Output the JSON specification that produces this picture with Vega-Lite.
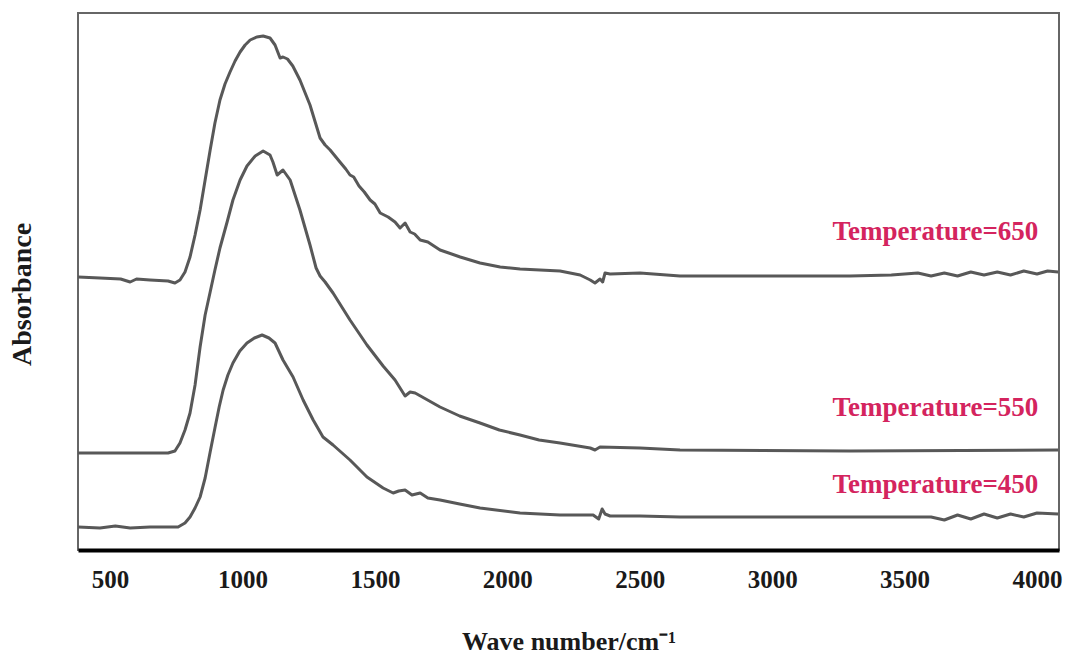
{
  "$schema": "https://vega.github.io/schema/vega-lite/v6.json",
  "width": 981,
  "height": 537,
  "autosize": "none",
  "padding": {"left": 78, "top": 13, "right": 11, "bottom": 105},
  "background": "white",
  "config": {
    "view": {"stroke": "#666666", "strokeWidth": 2},
    "font": "Liberation Serif"
  },
  "datasets": {
    "spectra": [
      {"series": "650", "wn": 379, "a": 273}, {"series": "650", "wn": 462, "a": 272}, {"series": "650", "wn": 540, "a": 271}, {"series": "650", "wn": 576, "a": 268}, {"series": "650", "wn": 600, "a": 271}, {"series": "650", "wn": 651, "a": 270}, {"series": "650", "wn": 719, "a": 269}, {"series": "650", "wn": 745, "a": 267}, {"series": "650", "wn": 764, "a": 270}, {"series": "650", "wn": 783, "a": 278}, {"series": "650", "wn": 802, "a": 293}, {"series": "650", "wn": 821, "a": 315}, {"series": "650", "wn": 840, "a": 340}, {"series": "650", "wn": 859, "a": 370}, {"series": "650", "wn": 878, "a": 400}, {"series": "650", "wn": 896, "a": 427}, {"series": "650", "wn": 915, "a": 450}, {"series": "650", "wn": 934, "a": 466}, {"series": "650", "wn": 953, "a": 478}, {"series": "650", "wn": 972, "a": 489}, {"series": "650", "wn": 991, "a": 498}, {"series": "650", "wn": 1010, "a": 505}, {"series": "650", "wn": 1029, "a": 510}, {"series": "650", "wn": 1054, "a": 513}, {"series": "650", "wn": 1078, "a": 514}, {"series": "650", "wn": 1104, "a": 512}, {"series": "650", "wn": 1123, "a": 505}, {"series": "650", "wn": 1142, "a": 492}, {"series": "650", "wn": 1153, "a": 493}, {"series": "650", "wn": 1170, "a": 491}, {"series": "650", "wn": 1190, "a": 484}, {"series": "650", "wn": 1217, "a": 470}, {"series": "650", "wn": 1255, "a": 445}, {"series": "650", "wn": 1293, "a": 412}, {"series": "650", "wn": 1312, "a": 405}, {"series": "650", "wn": 1331, "a": 400}, {"series": "650", "wn": 1368, "a": 388}, {"series": "650", "wn": 1390, "a": 381}, {"series": "650", "wn": 1406, "a": 375}, {"series": "650", "wn": 1420, "a": 373}, {"series": "650", "wn": 1440, "a": 364}, {"series": "650", "wn": 1460, "a": 358}, {"series": "650", "wn": 1482, "a": 350}, {"series": "650", "wn": 1500, "a": 346}, {"series": "650", "wn": 1520, "a": 337}, {"series": "650", "wn": 1550, "a": 333}, {"series": "650", "wn": 1576, "a": 328}, {"series": "650", "wn": 1595, "a": 322}, {"series": "650", "wn": 1614, "a": 327}, {"series": "650", "wn": 1633, "a": 318}, {"series": "650", "wn": 1650, "a": 316}, {"series": "650", "wn": 1671, "a": 310}, {"series": "650", "wn": 1700, "a": 308}, {"series": "650", "wn": 1746, "a": 300}, {"series": "650", "wn": 1822, "a": 293}, {"series": "650", "wn": 1897, "a": 287}, {"series": "650", "wn": 1973, "a": 283}, {"series": "650", "wn": 2048, "a": 281}, {"series": "650", "wn": 2199, "a": 279}, {"series": "650", "wn": 2275, "a": 275}, {"series": "650", "wn": 2313, "a": 270}, {"series": "650", "wn": 2331, "a": 267}, {"series": "650", "wn": 2350, "a": 271}, {"series": "650", "wn": 2360, "a": 268}, {"series": "650", "wn": 2369, "a": 277}, {"series": "650", "wn": 2388, "a": 276}, {"series": "650", "wn": 2501, "a": 277}, {"series": "650", "wn": 2652, "a": 274}, {"series": "650", "wn": 2917, "a": 274}, {"series": "650", "wn": 3294, "a": 274}, {"series": "650", "wn": 3450, "a": 275}, {"series": "650", "wn": 3550, "a": 277}, {"series": "650", "wn": 3600, "a": 274}, {"series": "650", "wn": 3650, "a": 277}, {"series": "650", "wn": 3700, "a": 274}, {"series": "650", "wn": 3750, "a": 278}, {"series": "650", "wn": 3800, "a": 275}, {"series": "650", "wn": 3850, "a": 278}, {"series": "650", "wn": 3900, "a": 275}, {"series": "650", "wn": 3950, "a": 279}, {"series": "650", "wn": 4000, "a": 276}, {"series": "650", "wn": 4040, "a": 279}, {"series": "650", "wn": 4080, "a": 278},

      {"series": "550", "wn": 379, "a": 97}, {"series": "550", "wn": 719, "a": 97}, {"series": "550", "wn": 745, "a": 99}, {"series": "550", "wn": 764, "a": 107}, {"series": "550", "wn": 783, "a": 120}, {"series": "550", "wn": 802, "a": 137}, {"series": "550", "wn": 821, "a": 165}, {"series": "550", "wn": 840, "a": 203}, {"series": "550", "wn": 859, "a": 235}, {"series": "550", "wn": 878, "a": 258}, {"series": "550", "wn": 896, "a": 280}, {"series": "550", "wn": 915, "a": 302}, {"series": "550", "wn": 942, "a": 328}, {"series": "550", "wn": 964, "a": 350}, {"series": "550", "wn": 991, "a": 370}, {"series": "550", "wn": 1017, "a": 384}, {"series": "550", "wn": 1048, "a": 394}, {"series": "550", "wn": 1078, "a": 399}, {"series": "550", "wn": 1104, "a": 395}, {"series": "550", "wn": 1115, "a": 388}, {"series": "550", "wn": 1131, "a": 375}, {"series": "550", "wn": 1153, "a": 380}, {"series": "550", "wn": 1180, "a": 370}, {"series": "550", "wn": 1217, "a": 340}, {"series": "550", "wn": 1255, "a": 305}, {"series": "550", "wn": 1278, "a": 282}, {"series": "550", "wn": 1293, "a": 274}, {"series": "550", "wn": 1312, "a": 268}, {"series": "550", "wn": 1342, "a": 257}, {"series": "550", "wn": 1406, "a": 230}, {"series": "550", "wn": 1470, "a": 205}, {"series": "550", "wn": 1531, "a": 184}, {"series": "550", "wn": 1576, "a": 170}, {"series": "550", "wn": 1614, "a": 154}, {"series": "550", "wn": 1633, "a": 158}, {"series": "550", "wn": 1652, "a": 157}, {"series": "550", "wn": 1746, "a": 143}, {"series": "550", "wn": 1820, "a": 134}, {"series": "550", "wn": 1897, "a": 127}, {"series": "550", "wn": 1970, "a": 120}, {"series": "550", "wn": 2048, "a": 115}, {"series": "550", "wn": 2120, "a": 110}, {"series": "550", "wn": 2199, "a": 107}, {"series": "550", "wn": 2313, "a": 102}, {"series": "550", "wn": 2331, "a": 100}, {"series": "550", "wn": 2350, "a": 103}, {"series": "550", "wn": 2501, "a": 102}, {"series": "550", "wn": 2652, "a": 100}, {"series": "550", "wn": 3294, "a": 99}, {"series": "550", "wn": 4080, "a": 100},

      {"series": "450", "wn": 379, "a": 23}, {"series": "450", "wn": 462, "a": 22}, {"series": "450", "wn": 520, "a": 24}, {"series": "450", "wn": 576, "a": 22}, {"series": "450", "wn": 651, "a": 23}, {"series": "450", "wn": 757, "a": 23}, {"series": "450", "wn": 783, "a": 27}, {"series": "450", "wn": 802, "a": 33}, {"series": "450", "wn": 821, "a": 42}, {"series": "450", "wn": 840, "a": 53}, {"series": "450", "wn": 859, "a": 72}, {"series": "450", "wn": 878, "a": 98}, {"series": "450", "wn": 896, "a": 122}, {"series": "450", "wn": 912, "a": 143}, {"series": "450", "wn": 927, "a": 160}, {"series": "450", "wn": 945, "a": 175}, {"series": "450", "wn": 964, "a": 187}, {"series": "450", "wn": 990, "a": 199}, {"series": "450", "wn": 1017, "a": 207}, {"series": "450", "wn": 1045, "a": 212}, {"series": "450", "wn": 1074, "a": 215}, {"series": "450", "wn": 1100, "a": 212}, {"series": "450", "wn": 1123, "a": 207}, {"series": "450", "wn": 1153, "a": 190}, {"series": "450", "wn": 1191, "a": 173}, {"series": "450", "wn": 1229, "a": 150}, {"series": "450", "wn": 1267, "a": 130}, {"series": "450", "wn": 1304, "a": 113}, {"series": "450", "wn": 1342, "a": 105}, {"series": "450", "wn": 1406, "a": 90}, {"series": "450", "wn": 1470, "a": 73}, {"series": "450", "wn": 1531, "a": 62}, {"series": "450", "wn": 1569, "a": 57}, {"series": "450", "wn": 1590, "a": 59}, {"series": "450", "wn": 1614, "a": 60}, {"series": "450", "wn": 1640, "a": 55}, {"series": "450", "wn": 1671, "a": 57}, {"series": "450", "wn": 1700, "a": 52}, {"series": "450", "wn": 1746, "a": 50}, {"series": "450", "wn": 1820, "a": 46}, {"series": "450", "wn": 1897, "a": 42}, {"series": "450", "wn": 2048, "a": 37}, {"series": "450", "wn": 2199, "a": 35}, {"series": "450", "wn": 2324, "a": 35}, {"series": "450", "wn": 2345, "a": 31}, {"series": "450", "wn": 2358, "a": 41}, {"series": "450", "wn": 2369, "a": 36}, {"series": "450", "wn": 2388, "a": 34}, {"series": "450", "wn": 2501, "a": 34}, {"series": "450", "wn": 2652, "a": 33}, {"series": "450", "wn": 3294, "a": 33}, {"series": "450", "wn": 3600, "a": 33}, {"series": "450", "wn": 3650, "a": 30}, {"series": "450", "wn": 3700, "a": 35}, {"series": "450", "wn": 3750, "a": 31}, {"series": "450", "wn": 3800, "a": 36}, {"series": "450", "wn": 3850, "a": 32}, {"series": "450", "wn": 3900, "a": 36}, {"series": "450", "wn": 3950, "a": 33}, {"series": "450", "wn": 4000, "a": 37}, {"series": "450", "wn": 4080, "a": 36}
    ],
    "labels": [
      {"label": "Temperature=650", "wn": 4005, "a": 318},
      {"label": "Temperature=550", "wn": 4005, "a": 142},
      {"label": "Temperature=450", "wn": 4005, "a": 65}
    ]
  },
  "layer": [
    {
      "data": {"name": "spectra"},
      "mark": {"type": "line", "color": "#585858", "strokeWidth": 3, "interpolate": "linear", "strokeJoin": "round", "clip": true},
      "encoding": {
        "x": {
          "field": "wn", "type": "quantitative",
          "scale": {"domain": [379, 4083], "nice": false, "zero": false},
          "axis": {
            "values": [500, 1000, 1500, 2000, 2500, 3000, 3500, 4000],
            "format": "d",
            "ticks": false, "grid": false, "labelFlush": false,
            "domainColor": "#000000", "domainWidth": 4,
            "labelFont": "Liberation Serif", "labelFontWeight": "bold", "labelFontSize": 25, "labelColor": "#1a1a1a",
            "labelPadding": 17,
            "title": "Wave number/cm⁻¹",
            "titleFont": "Liberation Serif", "titleFontWeight": "bold", "titleFontSize": 26, "titleColor": "#1a1a1a",
            "titlePadding": 36
          }
        },
        "y": {
          "field": "a", "type": "quantitative",
          "scale": {"domain": [0, 537], "nice": false, "zero": false},
          "axis": {
            "ticks": false, "labels": false, "grid": false, "domain": false,
            "title": "Absorbance",
            "titleFont": "Liberation Serif", "titleFontWeight": "bold", "titleFontSize": 28, "titleColor": "#1a1a1a",
            "titlePadding": 42,
            "titleY": 281
          }
        },
        "detail": {"field": "series", "type": "nominal"}
      }
    },
    {
      "data": {"name": "labels"},
      "mark": {"type": "text", "align": "right", "baseline": "middle", "font": "Liberation Serif", "fontWeight": "bold", "fontSize": 27, "color": "#d4245e"},
      "encoding": {
        "x": {"field": "wn", "type": "quantitative"},
        "y": {"field": "a", "type": "quantitative"},
        "text": {"field": "label"}
      }
    }
  ]
}
